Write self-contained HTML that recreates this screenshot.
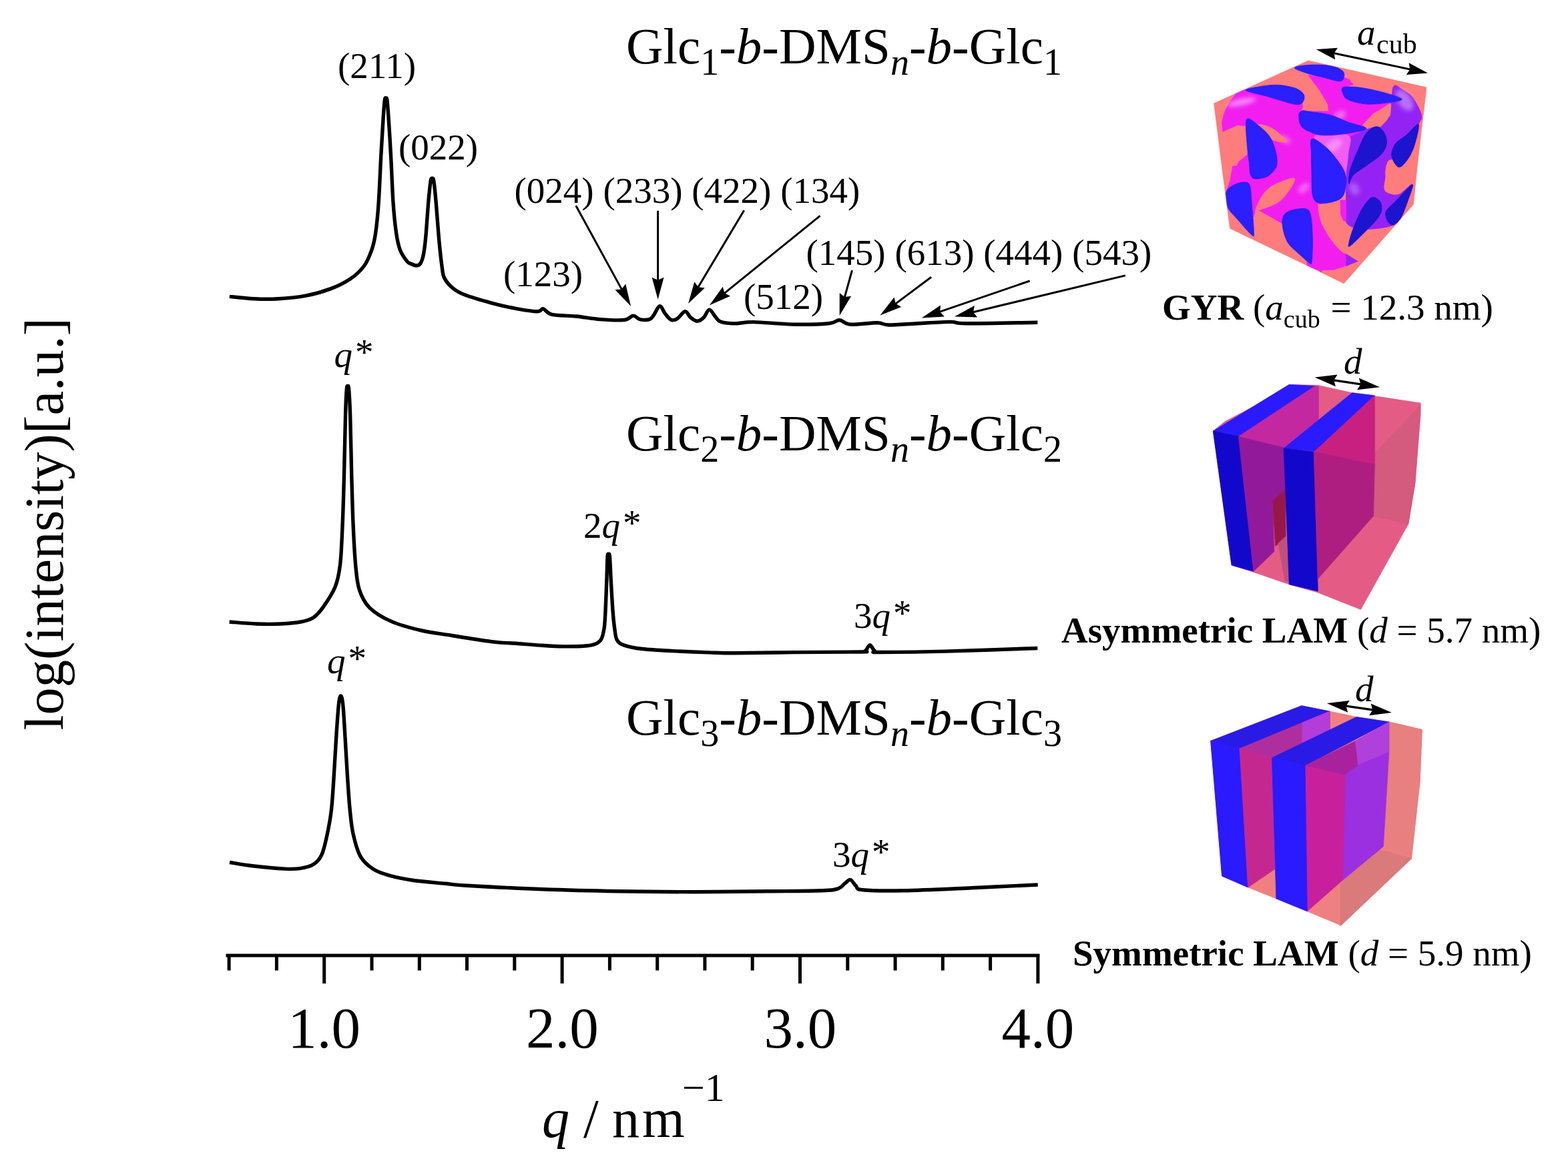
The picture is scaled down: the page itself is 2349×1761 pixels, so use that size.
<!DOCTYPE html>
<html><head><meta charset="utf-8"><style>
html,body{margin:0;padding:0;background:#fff;}
svg{display:block;}
text{font-family:"Liberation Serif","Times New Roman",serif;fill:#000;}
</style></head><body>
<svg width="2349" height="1761" viewBox="0 0 2349 1761">
<rect width="2349" height="1761" fill="#fff"/>
<g fill="none" stroke="#000" stroke-width="5.4" stroke-linejoin="round" stroke-linecap="butt">
<path d="M343.8,444.4 C349.9,445.0 368.2,447.2 380.4,447.8 C392.6,448.4 404.1,448.6 417.1,447.8 C430.1,447.0 445.4,445.7 458.4,443.2 C471.4,440.7 483.9,437.1 495.0,432.9 C506.1,428.7 516.4,423.7 524.8,418.0 C533.2,412.3 540.1,405.8 545.5,398.5 C550.9,391.2 554.0,382.6 556.9,374.4 C559.8,366.2 561.0,361.0 562.7,349.2 C564.4,337.4 565.9,322.5 567.2,303.4 C568.5,284.3 569.6,255.6 570.7,234.6 C571.9,213.6 573.2,191.5 574.1,177.3 C575.0,163.1 575.7,154.4 576.4,149.5 C577.1,144.6 577.6,148.0 578.2,148.0 C578.8,148.0 579.2,144.8 579.9,149.7 C580.5,154.6 581.1,163.2 582.1,177.3 C583.1,191.5 584.5,213.6 585.6,234.6 C586.8,255.6 587.7,284.3 589.0,303.4 C590.3,322.5 591.9,337.4 593.6,349.2 C595.3,361.0 596.6,367.3 599.3,374.4 C602.0,381.5 606.9,388.1 609.7,391.6 C612.5,395.1 613.8,394.4 616.0,395.5 C618.2,396.6 620.9,397.8 623.0,398.0 C625.1,398.2 626.9,398.0 628.5,396.5 C630.1,395.0 631.3,392.6 632.5,389.0 C633.7,385.4 634.5,381.6 635.5,375.0 C636.5,368.4 637.3,361.1 638.3,349.2 C639.3,337.3 640.6,316.4 641.7,303.4 C642.9,290.4 644.2,277.2 645.2,271.3 C646.2,265.4 646.7,267.7 647.5,267.7 C648.3,267.7 648.8,265.4 649.8,271.3 C650.8,277.2 651.9,288.5 653.2,303.4 C654.5,318.3 656.3,344.3 657.8,360.7 C659.3,377.1 661.1,392.6 662.4,402.0 C663.7,411.4 663.1,411.9 665.8,416.9 C668.5,421.9 673.2,427.6 678.4,431.8 C683.6,436.0 687.2,438.4 696.8,442.1 C706.4,445.8 723.6,450.7 736.2,454.1 C748.8,457.5 760.8,460.2 772.3,462.3 C783.8,464.4 798.0,466.7 804.9,466.8 C811.8,466.9 810.3,462.1 813.9,462.8 C817.5,463.6 818.5,469.4 826.6,471.3 C834.7,473.2 850.7,472.8 862.7,474.0 C874.8,475.2 886.8,477.7 898.9,478.6 C911.0,479.5 926.8,480.4 935.1,479.5 C943.4,478.6 944.7,473.2 948.6,473.1 C952.5,473.0 954.5,477.7 958.6,478.6 C962.7,479.5 969.6,479.7 973.1,478.6 C976.6,477.5 976.9,475.5 979.4,472.2 C981.9,468.9 985.5,459.0 988.4,458.7 C991.3,458.4 993.7,466.9 996.6,470.4 C999.5,473.9 1002.6,478.3 1005.6,479.5 C1008.6,480.7 1011.1,479.7 1014.6,477.6 C1018.1,475.5 1023.1,467.1 1026.4,466.8 C1029.7,466.5 1031.5,473.4 1034.5,475.8 C1037.5,478.2 1041.2,481.3 1044.5,481.3 C1047.8,481.3 1051.4,478.7 1054.4,475.8 C1057.4,472.9 1059.6,464.1 1062.6,464.1 C1065.6,464.1 1069.7,472.8 1072.5,475.8 C1075.3,478.8 1075.1,480.7 1079.7,482.2 C1084.3,483.7 1091.8,484.8 1100.0,484.9 C1108.2,485.0 1114.4,482.4 1128.9,482.6 C1143.4,482.8 1168.0,485.8 1186.8,486.1 C1205.6,486.5 1230.0,485.8 1241.8,484.7 C1253.6,483.6 1252.4,479.6 1257.7,479.8 C1263.0,480.0 1264.2,485.4 1273.6,486.1 C1283.0,486.8 1304.4,483.7 1314.1,483.8 C1323.8,483.9 1321.4,486.9 1331.5,487.0 C1341.6,487.1 1359.5,485.5 1374.9,484.7 C1390.3,483.9 1412.0,482.4 1424.1,482.4 C1436.1,482.4 1425.5,484.6 1447.2,484.7 C1468.9,484.8 1536.5,483.4 1554.3,483.2"/>
<path d="M343.6,932.0 C350.4,932.5 371.5,934.5 384.3,935.0 C397.1,935.5 409.4,935.5 420.5,935.0 C431.6,934.5 442.6,933.5 450.7,932.0 C458.8,930.5 463.3,929.6 468.8,926.0 C474.3,922.4 478.3,917.9 483.8,910.3 C489.3,902.6 497.6,890.7 501.9,880.1 C506.2,869.5 507.6,862.5 509.5,846.9 C511.4,831.3 512.1,809.2 513.1,786.6 C514.1,764.0 514.8,738.9 515.5,711.2 C516.2,683.6 517.0,642.2 517.6,620.7 C518.2,599.2 518.8,588.6 519.4,581.9 C520.0,575.2 520.5,580.5 521.0,580.5 C521.5,580.5 521.9,575.2 522.5,581.9 C523.1,588.6 523.9,599.2 524.6,620.7 C525.3,642.2 526.0,683.6 526.7,711.2 C527.5,738.9 528.1,764.0 529.1,786.6 C530.1,809.2 531.2,830.8 532.7,846.9 C534.2,863.0 534.7,872.5 538.1,883.1 C541.5,893.7 545.2,902.2 553.2,910.3 C561.2,918.3 573.3,925.6 586.4,931.4 C599.5,937.2 616.6,941.5 631.7,945.0 C646.8,948.5 659.5,949.7 676.9,952.5 C694.3,955.3 720.3,959.6 736.2,961.6 C752.1,963.6 760.2,963.4 772.3,964.3 C784.3,965.2 796.4,966.3 808.5,967.1 C820.6,967.9 833.2,968.8 844.7,968.9 C856.2,969.0 869.4,968.6 877.2,968.0 C885.0,967.4 887.8,966.9 891.7,965.2 C895.6,963.5 898.5,962.1 900.7,958.0 C903.0,953.9 904.1,948.2 905.2,940.8 C906.3,933.4 906.5,925.8 907.1,913.7 C907.7,901.7 908.4,881.9 908.9,868.5 C909.4,855.1 909.6,839.5 910.1,833.4 C910.6,827.3 911.2,832.0 911.8,832.0 C912.3,832.0 912.8,827.3 913.4,833.4 C914.0,839.5 914.5,855.1 915.2,868.5 C916.0,881.9 917.0,901.7 917.9,913.7 C918.8,925.8 919.5,933.3 920.6,940.8 C921.7,948.3 921.8,954.5 924.2,958.9 C926.6,963.3 928.8,964.8 935.1,967.1 C941.4,969.4 950.2,971.1 962.2,972.5 C974.2,973.9 990.8,974.7 1007.4,975.6 C1024.0,976.5 1046.3,977.4 1061.7,977.9 C1077.1,978.4 1078.5,978.8 1100.0,978.8 C1121.5,978.8 1158.7,977.9 1190.4,977.6 C1222.1,977.3 1272.6,977.2 1290.0,977.0 C1307.4,976.8 1293.7,976.9 1295.0,976.3 C1296.3,975.7 1297.1,974.6 1298.0,973.5 C1298.9,972.4 1299.6,970.6 1300.5,969.5 C1301.4,968.4 1302.4,966.7 1303.3,966.7 C1304.2,966.7 1305.1,968.4 1306.0,969.5 C1306.9,970.6 1307.6,972.3 1308.5,973.5 C1309.4,974.7 1310.1,975.8 1311.5,976.5 C1312.9,977.2 1299.5,977.6 1317.0,977.5 C1334.5,977.4 1377.0,977.1 1416.5,976.1 C1456.0,975.1 1531.3,972.3 1554.3,971.5"/>
<path d="M344.0,1292.5 C349.7,1293.4 364.6,1296.2 378.3,1297.8 C392.1,1299.4 414.4,1301.5 426.5,1302.1 C438.6,1302.7 443.4,1302.5 450.6,1301.4 C457.8,1300.3 464.7,1298.7 469.9,1295.3 C475.1,1291.9 478.6,1288.5 482.0,1280.9 C485.4,1273.3 488.0,1260.8 490.4,1249.5 C492.8,1238.2 494.9,1227.4 496.5,1213.3 C498.1,1199.2 498.9,1183.2 500.1,1165.1 C501.3,1147.0 502.5,1122.9 503.7,1104.8 C504.9,1086.7 506.2,1066.8 507.3,1056.5 C508.4,1046.2 509.4,1043.0 510.5,1043.0 C511.6,1043.0 512.7,1046.2 513.8,1056.5 C514.9,1066.8 515.9,1086.7 517.0,1104.8 C518.1,1122.9 519.4,1147.0 520.6,1165.1 C521.8,1183.2 522.8,1199.2 524.2,1213.3 C525.6,1227.4 526.4,1237.8 529.0,1249.5 C531.6,1261.2 534.9,1274.5 539.9,1283.3 C544.9,1292.1 552.0,1297.8 559.2,1302.6 C566.4,1307.4 573.2,1309.4 583.3,1312.2 C593.3,1315.0 605.4,1317.5 619.5,1319.5 C633.6,1321.5 654.4,1323.0 667.8,1324.3 C681.2,1325.6 675.8,1325.8 700.0,1327.2 C724.2,1328.6 775.3,1331.4 813.0,1332.8 C850.7,1334.2 888.3,1335.1 926.0,1335.8 C963.7,1336.5 1001.7,1336.7 1039.0,1336.7 C1076.3,1336.7 1117.9,1336.1 1150.0,1335.8 C1182.1,1335.5 1213.8,1335.5 1231.4,1334.8 C1249.0,1334.1 1250.0,1333.6 1255.8,1331.7 C1261.6,1329.8 1263.0,1325.8 1266.0,1323.6 C1269.0,1321.4 1271.4,1317.8 1274.1,1318.5 C1276.8,1319.2 1279.2,1325.1 1282.2,1327.6 C1285.2,1330.1 1280.5,1332.5 1292.4,1333.7 C1304.3,1334.9 1326.3,1335.3 1353.4,1334.8 C1380.5,1334.3 1421.5,1332.2 1455.1,1330.7 C1488.7,1329.2 1538.2,1326.8 1554.8,1326.0"/>
</g>
<g stroke="#000" stroke-width="5" fill="none">
<line x1="338.5" y1="1432" x2="1557.3" y2="1432"/>
<line x1="343.1" y1="1430" x2="343.1" y2="1454.5"/>
<line x1="414.4" y1="1430" x2="414.4" y2="1454.5"/>
<line x1="485.7" y1="1430" x2="485.7" y2="1474.0"/>
<line x1="557.0" y1="1430" x2="557.0" y2="1454.5"/>
<line x1="628.3" y1="1430" x2="628.3" y2="1454.5"/>
<line x1="699.5" y1="1430" x2="699.5" y2="1454.5"/>
<line x1="770.8" y1="1430" x2="770.8" y2="1454.5"/>
<line x1="842.1" y1="1430" x2="842.1" y2="1474.0"/>
<line x1="913.4" y1="1430" x2="913.4" y2="1454.5"/>
<line x1="984.7" y1="1430" x2="984.7" y2="1454.5"/>
<line x1="1055.9" y1="1430" x2="1055.9" y2="1454.5"/>
<line x1="1127.2" y1="1430" x2="1127.2" y2="1454.5"/>
<line x1="1198.5" y1="1430" x2="1198.5" y2="1474.0"/>
<line x1="1269.8" y1="1430" x2="1269.8" y2="1454.5"/>
<line x1="1341.1" y1="1430" x2="1341.1" y2="1454.5"/>
<line x1="1412.3" y1="1430" x2="1412.3" y2="1454.5"/>
<line x1="1483.6" y1="1430" x2="1483.6" y2="1454.5"/>
<line x1="1554.9" y1="1430" x2="1554.9" y2="1474.0"/>
</g>
<line x1="862.8" y1="308.2" x2="931.2" y2="433.4" stroke="#000" stroke-width="3"/><path d="M945.1,458.9 L921.4,434.3 L931.2,433.4 L937.2,425.6 Z" fill="#000"/>
<line x1="985.6" y1="315.8" x2="985.6" y2="419.7" stroke="#000" stroke-width="3"/><path d="M985.6,448.7 L976.6,415.7 L985.6,419.7 L994.6,415.7 Z" fill="#000"/>
<line x1="1114.7" y1="315.3" x2="1046.0" y2="430.2" stroke="#000" stroke-width="3"/><path d="M1031.1,455.1 L1040.3,422.2 L1046.0,430.2 L1055.8,431.4 Z" fill="#000"/>
<line x1="1228.6" y1="323.4" x2="1085.4" y2="439.3" stroke="#000" stroke-width="3"/><path d="M1062.8,457.6 L1082.8,429.8 L1085.4,439.3 L1094.1,443.8 Z" fill="#000"/>
<line x1="1276.5" y1="405.1" x2="1265.4" y2="445.1" stroke="#000" stroke-width="3"/><path d="M1257.7,473.1 L1257.8,438.9 L1265.4,445.1 L1275.2,443.7 Z" fill="#000"/>
<line x1="1395.1" y1="415.2" x2="1341.8" y2="455.1" stroke="#000" stroke-width="3"/><path d="M1318.5,472.5 L1339.5,445.5 L1341.8,455.1 L1350.3,459.9 Z" fill="#000"/>
<line x1="1542.7" y1="421.0" x2="1408.2" y2="467.2" stroke="#000" stroke-width="3"/><path d="M1380.7,476.6 L1409.0,457.4 L1408.2,467.2 L1414.8,474.4 Z" fill="#000"/>
<line x1="1686.0" y1="412.9" x2="1458.1" y2="467.7" stroke="#000" stroke-width="3"/><path d="M1429.9,474.5 L1459.9,458.0 L1458.1,467.7 L1464.1,475.5 Z" fill="#000"/>
<g font-size="55">
<text x="506" y="117">(211)</text>
<text x="597" y="238.5">(022)</text>
<text x="754" y="429">(123)</text>
<text x="770.5" y="304">(024) (233) (422) (134)</text>
<text x="1114" y="462.5">(512)</text>
<text x="1207.5" y="396.5">(145) (613) (444) (543)</text>
</g>
<text x="938" y="95" font-size="77">Glc<tspan font-size="56" dy="17">1</tspan><tspan dy="-17">-</tspan><tspan font-style="italic">b</tspan>-DMS<tspan font-style="italic" font-size="56" dy="17">n</tspan><tspan dy="-17">-</tspan><tspan font-style="italic">b</tspan>-Glc<tspan font-size="56" dy="17">1</tspan></text>
<text x="938" y="675" font-size="77">Glc<tspan font-size="56" dy="17">2</tspan><tspan dy="-17">-</tspan><tspan font-style="italic">b</tspan>-DMS<tspan font-style="italic" font-size="56" dy="17">n</tspan><tspan dy="-17">-</tspan><tspan font-style="italic">b</tspan>-Glc<tspan font-size="56" dy="17">2</tspan></text>
<text x="938" y="1100.5" font-size="77">Glc<tspan font-size="56" dy="17">3</tspan><tspan dy="-17">-</tspan><tspan font-style="italic">b</tspan>-DMS<tspan font-style="italic" font-size="56" dy="17">n</tspan><tspan dy="-17">-</tspan><tspan font-style="italic">b</tspan>-Glc<tspan font-size="56" dy="17">3</tspan></text>
<g font-size="87">
<text x="485.7" y="1570" text-anchor="middle">1.0</text>
<text x="842.4" y="1570" text-anchor="middle">2.0</text>
<text x="1198.9" y="1570" text-anchor="middle">3.0</text>
<text x="1554.8" y="1570" text-anchor="middle">4.0</text>
</g>
<text x="812" y="1704" font-size="82" font-style="italic">q</text><text x="874" y="1704" font-size="82">/</text><text x="917" y="1704" font-size="82" letter-spacing="4">nm</text>
<text x="1022" y="1649.5" font-size="60">&#8722;1</text>
<text transform="translate(94,1094.5) rotate(-90)" font-size="82.5">log(intensity)[a.u.]</text>
<g font-size="55">
<text x="500.5" y="549.5"><tspan font-style="italic">q</tspan><tspan dx="4" dy="-4">*</tspan></text>
<text x="874" y="806"><tspan>2</tspan><tspan font-style="italic">q</tspan><tspan dx="4" dy="-4">*</tspan></text>
<text x="1279" y="940.5"><tspan>3</tspan><tspan font-style="italic">q</tspan><tspan dx="4" dy="-4">*</tspan></text>
<text x="490" y="1009"><tspan font-style="italic">q</tspan><tspan dx="4" dy="-4">*</tspan></text>
<text x="1247" y="1298.7"><tspan>3</tspan><tspan font-style="italic">q</tspan><tspan dx="4" dy="-4">*</tspan></text>
</g>
<defs><filter id="gblur" x="-50%" y="-50%" width="200%" height="200%"><feGaussianBlur stdDeviation="3"/></filter></defs><clipPath id="hexclip"><polygon points="1818.7,154.9 1959.8,90.9 2014.0,103.0 2069.0,115.5 2137.0,131.0 2123.0,250.0 2117.4,306.5 2013.2,424.8 1960.0,398.8 1842.6,342.3 1830.6,250.0"/></clipPath>
<polygon points="1818.7,154.9 1959.8,90.9 2014.0,103.0 2069.0,115.5 2137.0,131.0 2123.0,250.0 2117.4,306.5 2013.2,424.8 1960.0,398.8 1842.6,342.3 1830.6,250.0" fill="#FF7C7C" stroke="#FF7C7C" stroke-width="0.8" stroke-linejoin="round"/>
<g clip-path="url(#hexclip)">
<polygon points="1831.7,197.3 1830.6,183.1 1835.0,166.9 1841.5,153.8 1851.3,140.8 1858.9,135.4 1866.5,134.3 1896.9,144.1 1918.6,150.6 1940.3,156.5 1951.2,154.9 1951.2,161.4 1945.7,172.3 1949.0,188.6 1962.0,197.3 1980.0,201.6 1980.0,262.4 1848.0,262.4 1855.6,242.9 1868.6,232.0 1870.8,221.2 1866.5,188.6 1853.4,187.5" fill="#F21EF0" stroke="#F21EF0" stroke-width="0.8" stroke-linejoin="round"/>
<polygon points="1960.0,112.6 1981.7,115.8 2006.7,121.8 2013.2,115.8 2020.8,119.1 2027.3,126.7 2012.1,131.0 2019.7,149.5 2046.9,156.0 2079.4,153.8 2100.1,148.4 2079.4,156.0 2057.7,170.1 2041.4,187.5 2046.9,192.9 1992.6,172.3 1960.0,166.9 1990.4,166.9 1989.3,156.0 1976.3,134.3" fill="#F21EF0" stroke="#F21EF0" stroke-width="0.8" stroke-linejoin="round"/>
<polygon points="1960.0,199.4 2014.3,200.5 2046.9,192.9 2036.0,199.4 2020.8,215.7 2027.3,262.4 1960.0,262.4" fill="#F21EF0" stroke="#F21EF0" stroke-width="0.8" stroke-linejoin="round"/>
<path d="M2088.0,129.0 C2090.9,125.4 2096.3,131.4 2101.0,134.3 C2105.7,137.2 2111.7,139.9 2116.4,146.2 C2121.1,152.5 2128.0,165.6 2129.4,172.3 C2130.8,179.0 2128.2,179.3 2125.0,186.4 C2121.8,193.5 2115.8,206.7 2110.0,215.0 C2104.2,223.3 2095.1,231.7 2090.0,236.0 C2084.9,240.3 2081.9,237.8 2079.4,241.0 C2076.9,244.2 2075.7,250.8 2075.0,255.0 C2074.3,259.2 2075.3,261.4 2075.0,266.0 C2074.7,270.6 2072.2,278.6 2073.0,282.6 C2073.8,286.6 2076.2,288.6 2080.0,290.0 C2083.8,291.4 2089.6,293.4 2095.7,291.3 C2101.8,289.2 2115.7,272.3 2116.4,277.1 C2117.1,281.9 2104.7,310.0 2100.0,320.0 C2095.3,330.0 2096.0,333.0 2088.1,336.9 C2080.2,340.8 2062.8,342.9 2052.3,343.4 C2041.8,343.9 2031.0,342.0 2025.1,340.1 C2019.2,338.2 2018.1,338.7 2016.7,332.0 C2015.3,325.3 2016.8,310.7 2016.7,300.0 C2016.6,289.3 2015.6,278.0 2016.0,268.0 C2016.4,258.0 2018.5,249.6 2019.0,240.0 C2019.5,230.4 2016.5,217.1 2019.0,210.4 C2021.5,203.7 2029.3,202.7 2034.0,200.0 C2038.7,197.3 2042.2,195.7 2046.9,194.0 C2051.6,192.3 2058.4,190.6 2062.0,189.7 C2065.6,188.8 2065.7,190.6 2068.6,188.6 C2071.5,186.6 2076.9,183.1 2079.4,177.7 C2081.9,172.3 2082.4,164.1 2083.8,156.0 C2085.2,147.9 2085.1,132.6 2088.0,129.0 Z" fill="#9422F4" stroke="#9422F4" stroke-width="0.8"/>
<path d="M1969.0,205.0 C1969.9,201.7 1979.9,201.9 1988.6,201.7 C1997.3,201.5 2015.8,199.4 2021.0,203.9 C2026.2,208.4 2020.7,220.2 2020.0,228.9 C2019.3,237.6 2017.5,249.7 2016.8,256.0 C2016.1,262.3 2017.7,269.1 2015.7,266.9 C2013.7,264.7 2010.4,250.6 2004.9,243.0 C1999.5,235.4 1989.0,227.6 1983.0,221.3 C1977.0,215.0 1968.1,208.3 1969.0,205.0 Z" fill="#F25CF2" stroke="#F25CF2" stroke-width="0.8"/>
<polygon points="1846.9,248.9 1980.0,248.9 1980.0,408.5 1964.2,395.5 1966.4,358.6 1964.2,326.0 1958.8,314.1 1945.7,313.0 1929.4,317.3 1920.7,334.7 1886.0,315.1 1913.1,304.3 1929.4,288.0 1939.2,267.4 1913.1,275.0 1896.9,285.8 1886.0,302.1 1880.6,317.3 1877.3,326.0 1875.1,304.3 1873.0,280.4 1867.5,273.3 1853.4,275.0 1838.2,284.7 1842.6,271.7" fill="#F21EF0" stroke="#F21EF0" stroke-width="0.8" stroke-linejoin="round"/>
<polygon points="1958.0,249.0 1966.0,249.0 1966.0,300.0 1974.7,307.2 1976.2,321.7 1980.5,336.2 1990.7,354.3 2001.5,368.7 2012.4,378.9 2016.0,380.0 2016.0,398.4 1997.9,404.2 1980.0,405.0 1968.9,402.7 1958.0,398.0" fill="#F21EF0" stroke="#F21EF0" stroke-width="0.8" stroke-linejoin="round"/>
<polygon points="2016.5,380.3 2034.9,391.2 2016.5,398.8" fill="#9422F4" stroke="#9422F4" stroke-width="0.8" stroke-linejoin="round"/>
<g filter="url(#gblur)" fill="#ffffff">
<ellipse cx="1860" cy="153" rx="22" ry="5" transform="rotate(-12 1860 153)" opacity="0.45"/>
<ellipse cx="1925" cy="209" rx="10" ry="5" transform="rotate(30 1925 209)" opacity="0.3"/>
<ellipse cx="1998" cy="218" rx="14" ry="8" transform="rotate(-35 1998 218)" opacity="0.3"/>
<ellipse cx="2007" cy="173" rx="10" ry="6" transform="rotate(-30 2007 173)" opacity="0.35"/>
<ellipse cx="2104" cy="150" rx="10" ry="18" transform="rotate(-35 2104 150)" opacity="0.35"/>
<ellipse cx="2029" cy="283" rx="7" ry="10" transform="rotate(-30 2029 283)" opacity="0.25"/>
<ellipse cx="1953" cy="282" rx="10" ry="6" transform="rotate(-40 1953 282)" opacity="0.3"/>
</g>
<path d="M1880.6,186.4 C1882.4,185.9 1891.4,186.8 1896.9,188.6 C1902.3,190.4 1908.1,193.3 1913.1,197.3 C1918.2,201.2 1928.2,210.3 1927.3,212.5 C1926.4,214.6 1912.8,212.1 1907.7,210.3 C1902.7,208.5 1900.5,204.7 1896.9,201.6 C1893.2,198.5 1888.7,194.4 1886.0,191.8 C1883.3,189.3 1878.8,186.9 1880.6,186.4 Z" fill="#FF7C7C" stroke="#FF7C7C" stroke-width="0.8"/>
<polygon points="2083.8,156.0 2082.7,172.3 2068.6,189.7 2041.4,187.5 2057.7,170.1" fill="#FF7C7C" stroke="#FF7C7C" stroke-width="0.8" stroke-linejoin="round"/>
<path d="M1939.2,267.4 C1936.5,265.2 1920.2,271.9 1913.1,275.0 C1906.1,278.0 1901.4,281.3 1896.9,285.8 C1892.3,290.4 1888.7,296.9 1886.0,302.1 C1883.3,307.4 1880.6,315.1 1880.6,317.3 C1880.6,319.5 1880.6,317.3 1886.0,315.1 C1891.4,313.0 1905.9,308.8 1913.1,304.3 C1920.4,299.8 1925.1,294.2 1929.4,288.0 C1933.8,281.8 1941.9,269.5 1939.2,267.4 Z" fill="#FF7C7C" stroke="#FF7C7C" stroke-width="0.8"/>
<polygon points="1974.7,306.5 2008.0,305.0 2008.7,321.7 2012.4,330.4 2019.6,337.6 2024.7,341.2 2019.6,368.7 2040.0,355.0 2040.0,394.0 2034.8,391.2 2016.0,379.6 2012.4,378.9 2001.5,368.7 1990.7,354.3 1980.5,336.2 1976.2,321.7" fill="#FF7C7C" stroke="#FF7C7C" stroke-width="0.8" stroke-linejoin="round"/>
<polygon points="2008.0,300.0 2016.7,300.0 2016.7,332.0 2012.4,330.4 2008.7,321.7" fill="#F21EF0" stroke="#F21EF0" stroke-width="0.8" stroke-linejoin="round"/>
<path d="M1866.5,135.4 C1864.7,133.0 1878.2,131.3 1886.0,129.9 C1893.8,128.6 1904.1,126.9 1913.1,127.2 C1922.2,127.6 1933.6,129.7 1940.3,132.1 C1947.0,134.6 1951.5,138.3 1953.3,141.9 C1955.1,145.5 1953.3,151.4 1951.2,153.8 C1949.0,156.3 1945.7,157.1 1940.3,156.5 C1934.9,156.0 1925.8,152.7 1918.6,150.6 C1911.3,148.5 1905.5,146.6 1896.9,144.1 C1888.2,141.5 1868.3,137.7 1866.5,135.4 Z" fill="#2B1EFF" stroke="#2B1EFF" stroke-width="0.8"/>
<path d="M1939.4,101.7 C1939.4,99.5 1951.1,97.9 1960.0,97.4 C1968.9,96.8 1984.1,97.0 1992.6,98.5 C2001.1,99.9 2007.6,103.2 2011.0,106.1 C2014.5,109.0 2013.9,113.2 2013.2,115.8 C2012.5,118.5 2011.9,121.8 2006.7,121.8 C2001.4,121.8 1989.5,117.7 1981.7,115.8 C1973.9,113.9 1967.1,112.8 1960.0,110.4 C1952.9,108.0 1939.4,103.9 1939.4,101.7 Z" fill="#2B1EFF" stroke="#2B1EFF" stroke-width="0.8"/>
<path d="M2012.1,131.0 C2016.1,129.4 2026.6,129.9 2036.0,131.0 C2045.4,132.1 2057.9,134.7 2068.6,137.5 C2079.3,140.4 2098.3,145.7 2100.1,148.4 C2101.9,151.1 2088.3,152.6 2079.4,153.8 C2070.6,155.1 2056.8,156.7 2046.9,156.0 C2036.9,155.3 2025.5,152.0 2019.7,149.5 C2013.9,147.0 2013.4,143.9 2012.1,140.8 C2010.9,137.7 2008.1,132.7 2012.1,131.0 Z" fill="#2B1EFF" stroke="#2B1EFF" stroke-width="0.8"/>
<path d="M1945.7,172.3 C1946.0,168.5 1948.7,166.7 1951.1,165.8 C1953.5,164.9 1953.1,165.8 1960.0,166.9 C1966.9,168.0 1982.6,169.6 1992.6,172.3 C2002.5,175.0 2010.7,179.7 2019.7,183.1 C2028.8,186.5 2047.8,190.0 2046.9,192.9 C2046.0,195.8 2025.2,198.9 2014.3,200.5 C2003.4,202.1 1990.4,203.2 1981.7,202.7 C1973.0,202.2 1967.5,199.7 1962.0,197.3 C1956.5,195.0 1951.7,192.8 1949.0,188.6 C1946.3,184.4 1945.4,176.1 1945.7,172.3 Z" fill="#2B1EFF" stroke="#2B1EFF" stroke-width="0.8"/>
<path d="M1869.7,177.7 C1873.0,177.7 1880.6,184.1 1886.0,188.6 C1891.4,193.1 1898.1,198.6 1902.3,204.9 C1906.5,211.2 1909.2,219.8 1911.0,226.6 C1912.8,233.4 1913.6,241.0 1913.1,246.0 C1912.5,251.0 1910.4,253.3 1907.7,256.5 C1905.0,259.7 1901.6,263.3 1896.9,265.2 C1892.2,267.1 1883.5,268.6 1879.5,267.9 C1875.5,267.2 1874.3,264.7 1873.0,260.9 C1871.7,257.1 1872.2,251.6 1871.5,245.0 C1870.8,238.4 1869.4,230.6 1868.6,221.2 C1867.8,211.8 1866.3,195.8 1866.5,188.6 C1866.7,181.3 1866.5,177.7 1869.7,177.7 Z" fill="#2B1EFF" stroke="#2B1EFF" stroke-width="0.8"/>
<path d="M1965.4,208.1 C1969.2,206.6 1980.4,215.4 1987.1,221.2 C1993.8,227.0 2001.1,236.8 2005.6,242.9 C2010.1,249.0 2012.5,253.2 2014.3,258.0 C2016.1,262.8 2016.9,265.8 2016.5,271.7 C2016.1,277.6 2015.2,288.3 2012.1,293.4 C2009.0,298.5 2004.0,300.3 1998.0,302.1 C1992.0,303.9 1981.5,305.8 1976.3,304.3 C1971.0,302.9 1968.4,300.8 1966.5,293.4 C1964.6,286.0 1965.3,270.6 1965.0,260.0 C1964.7,249.4 1964.4,238.7 1964.5,230.0 C1964.6,221.3 1961.6,209.6 1965.4,208.1 Z" fill="#2B1EFF" stroke="#2B1EFF" stroke-width="0.8"/>
<path d="M1838.2,284.7 C1840.9,280.8 1848.5,276.9 1853.4,275.0 C1858.3,273.1 1864.3,272.4 1867.5,273.3 C1870.8,274.2 1871.7,275.2 1873.0,280.4 C1874.2,285.6 1874.2,293.1 1875.1,304.3 C1876.1,315.5 1878.4,339.8 1878.4,347.7 C1878.4,355.7 1879.3,355.3 1875.1,352.1 C1871.0,348.8 1859.2,334.7 1853.4,328.2 C1847.6,321.7 1843.1,317.9 1840.4,313.0 C1837.7,308.1 1837.5,303.6 1837.1,298.9 C1836.8,294.2 1835.5,288.7 1838.2,284.7 Z" fill="#2B1EFF" stroke="#2B1EFF" stroke-width="0.8"/>
<path d="M1921.8,326.0 C1923.1,321.8 1925.5,319.5 1929.4,317.3 C1933.4,315.1 1940.8,313.5 1945.7,313.0 C1950.6,312.4 1955.7,311.9 1958.8,314.1 C1961.8,316.2 1962.9,318.6 1964.2,326.0 C1965.4,333.4 1966.2,347.7 1966.4,358.6 C1966.5,369.4 1966.0,385.2 1965.3,391.2 C1964.5,397.1 1965.3,396.2 1962.0,394.4 C1958.8,392.6 1951.2,385.4 1945.7,380.3 C1940.3,375.2 1933.4,370.3 1929.4,364.0 C1925.5,357.7 1923.1,348.6 1921.8,342.3 C1920.6,336.0 1920.6,330.2 1921.8,326.0 Z" fill="#2B1EFF" stroke="#2B1EFF" stroke-width="0.8"/>
<path d="M2062.1,189.7 C2066.6,189.7 2071.5,195.1 2074.0,199.4 C2076.5,203.8 2078.2,210.3 2077.3,215.7 C2076.4,221.2 2073.6,226.6 2068.6,232.0 C2063.5,237.4 2053.7,243.2 2046.9,248.3 C2040.0,253.4 2031.7,257.9 2027.3,262.4 C2023.0,266.9 2021.5,276.9 2020.8,275.4 C2020.1,274.0 2020.4,262.8 2023.0,253.7 C2025.5,244.7 2032.0,230.2 2036.0,221.2 C2040.0,212.1 2042.5,204.7 2046.9,199.4 C2051.2,194.2 2057.5,189.7 2062.1,189.7 Z" fill="#1C14CE" stroke="#1C14CE" stroke-width="0.8"/>
<path d="M2125.0,186.4 C2127.2,188.6 2122.1,207.2 2119.6,215.7 C2117.1,224.2 2113.8,231.6 2109.8,237.4 C2105.9,243.2 2099.9,251.0 2095.7,250.5 C2091.6,249.9 2085.8,240.0 2084.9,234.2 C2084.0,228.4 2086.7,221.0 2090.3,215.7 C2093.9,210.5 2100.8,207.6 2106.6,202.7 C2112.4,197.8 2122.9,184.2 2125.0,186.4 Z" fill="#1C14CE" stroke="#1C14CE" stroke-width="0.8"/>
<path d="M2057.7,295.6 C2060.8,295.8 2065.5,298.9 2067.5,302.1 C2069.5,305.4 2070.4,310.8 2069.7,315.1 C2068.9,319.5 2066.9,323.1 2063.1,328.2 C2059.3,333.2 2053.6,338.9 2046.9,345.5 C2040.2,352.2 2027.3,365.3 2023.0,368.3 C2018.6,371.4 2020.1,368.3 2020.8,364.0 C2021.5,359.7 2024.4,350.1 2027.3,342.3 C2030.2,334.5 2034.6,324.2 2038.2,317.3 C2041.8,310.4 2045.8,304.7 2049.0,301.0 C2052.3,297.4 2054.6,295.4 2057.7,295.6 Z" fill="#1C14CE" stroke="#1C14CE" stroke-width="0.8"/>
<path d="M2116.4,277.1 C2116.9,279.5 2112.7,290.7 2109.8,298.9 C2106.9,307.0 2102.6,319.7 2099.0,326.0 C2095.4,332.3 2091.4,335.8 2088.1,336.9 C2084.9,337.9 2081.4,335.8 2079.4,332.5 C2077.4,329.3 2074.4,322.4 2076.2,317.3 C2078.0,312.3 2085.2,307.5 2090.3,302.1 C2095.4,296.7 2102.2,288.9 2106.6,284.7 C2110.9,280.6 2115.8,274.8 2116.4,277.1 Z" fill="#1C14CE" stroke="#1C14CE" stroke-width="0.8"/>
</g>
<polygon points="1817.4,646.1 1834.9,631.8 1877.9,609.2 1931.3,576.4 1974.3,577.4 2025.6,588.7 2060.5,593.8 2128.1,604.1 2128.1,621.5 2119.9,724.1 2109.7,785.6 2038.5,913.4 1974.3,888.1 1931.3,875.8 1877.9,857.4 1845.1,847.1" fill="#E45C86" stroke="#E45C86" stroke-width="0.8" stroke-linejoin="round"/>
<polygon points="2059.4,678.9 2128.1,607.2 2119.9,724.1 2109.7,785.6 2057.4,773.3" fill="#D45A7E" stroke="#D45A7E" stroke-width="0.8" stroke-linejoin="round"/>
<polygon points="1817.4,646.1 1931.3,576.4 1970.2,578.5 1855.4,654.3" fill="#2A1AFF" stroke="#2A1AFF" stroke-width="0.8" stroke-linejoin="round"/>
<polygon points="1855.4,654.3 1970.2,578.5 1975.3,578.9 1975.3,628.9 1923.1,670.7" fill="#C428A0" stroke="#C428A0" stroke-width="0.8" stroke-linejoin="round"/>
<polygon points="1923.1,671.8 2025.6,588.7 2059.4,592.8 1970.2,675.9" fill="#2A1AFF" stroke="#2A1AFF" stroke-width="0.8" stroke-linejoin="round"/>
<polygon points="1970.2,675.9 2059.4,592.8 2059.4,696.4 1968.2,677.9" fill="#C82080" stroke="#C82080" stroke-width="0.8" stroke-linejoin="round"/>
<polygon points="1817.4,646.1 1855.4,654.3 1877.9,856.3 1845.1,847.1" fill="#1208CC" stroke="#1208CC" stroke-width="0.8" stroke-linejoin="round"/>
<polygon points="1855.4,654.3 1923.1,670.7 1925.1,734.3 1906.6,750.7 1908.7,826.6 1877.9,856.3" fill="#921A9A" stroke="#921A9A" stroke-width="0.8" stroke-linejoin="round"/>
<polygon points="1906.6,750.7 1925.1,734.3 1926.1,806.1 1910.7,818.4" fill="#961848" stroke="#961848" stroke-width="0.8" stroke-linejoin="round"/>
<polygon points="1914.8,814.3 1926.1,804.1 1931.3,871.7 1925.1,870.7" fill="#C0507A" stroke="#C0507A" stroke-width="0.8" stroke-linejoin="round"/>
<polygon points="1923.1,671.8 1968.2,676.9 1974.3,886.1 1931.3,875.8" fill="#1208CC" stroke="#1208CC" stroke-width="0.8" stroke-linejoin="round"/>
<polygon points="1968.2,676.9 2059.4,696.4 2057.4,773.3 1974.3,867.6" fill="#AE1E80" stroke="#AE1E80" stroke-width="0.8" stroke-linejoin="round"/>
<polygon points="1813.7,1110.4 1949.9,1057.7 1992.1,1066.1 2032.2,1074.5 2080.7,1081.9 2130.3,1093.5 2127.1,1171.6 2114.5,1285.6 2008.9,1386.9 1958.3,1365.8 1911.9,1346.8 1869.6,1329.9 1830.6,1313.0" fill="#F08080" stroke="#F08080" stroke-width="0.8" stroke-linejoin="round"/>
<polygon points="2008.1,1324.0 2065.9,1273.4 2115.1,1286.5 2008.1,1387.8" fill="#DA7A7A" stroke="#DA7A7A" stroke-width="0.8" stroke-linejoin="round"/>
<polygon points="2080.7,1081.9 2130.3,1093.5 2127.1,1171.6 2114.5,1285.6 2072.3,1268.7 2076.5,1127.3" fill="#E88080" stroke="#E88080" stroke-width="0.8" stroke-linejoin="round"/>
<polygon points="1813.7,1110.4 1949.9,1057.7 1992.1,1066.1 1857.0,1122.0" fill="#2A1AE6" stroke="#2A1AE6" stroke-width="0.8" stroke-linejoin="round"/>
<polygon points="1857.0,1122.0 1992.1,1066.1 1992.1,1094.0 1905.5,1135.8" fill="#AE2E9E" stroke="#AE2E9E" stroke-width="0.8" stroke-linejoin="round"/>
<polygon points="1950.9,1083.0 1992.1,1066.1 1992.1,1094.0 1950.9,1113.6" fill="#B43CD8" stroke="#B43CD8" stroke-width="0.8" stroke-linejoin="round"/>
<polygon points="1905.5,1135.8 2032.2,1074.5 2080.7,1081.9 1955.1,1147.4" fill="#2A1AE6" stroke="#2A1AE6" stroke-width="0.8" stroke-linejoin="round"/>
<polygon points="1955.1,1147.4 2030.4,1110.6 2035.0,1146.8 2014.2,1162.1" fill="#A8229E" stroke="#A8229E" stroke-width="0.8" stroke-linejoin="round"/>
<polygon points="2030.4,1110.6 2081.0,1081.7 2081.0,1126.9 2035.0,1146.8" fill="#B040DC" stroke="#B040DC" stroke-width="0.8" stroke-linejoin="round"/>
<polygon points="2014.2,1162.1 2034.9,1146.7 2080.9,1126.9 2072.3,1268.7 2011.1,1319.4" fill="#9A30E0" stroke="#9A30E0" stroke-width="0.8" stroke-linejoin="round"/>
<polygon points="1955.1,1147.4 2015.3,1162.1 2011.1,1319.4 1958.3,1365.8" fill="#C8209C" stroke="#C8209C" stroke-width="0.8" stroke-linejoin="round"/>
<polygon points="1813.7,1110.4 1857.0,1121.0 1869.6,1329.9 1830.6,1313.0" fill="#2A1AFF" stroke="#2A1AFF" stroke-width="0.8" stroke-linejoin="round"/>
<polygon points="1857.0,1121.0 1905.5,1135.8 1909.8,1302.5 1869.6,1329.9" fill="#C42890" stroke="#C42890" stroke-width="0.8" stroke-linejoin="round"/>
<polygon points="1905.5,1135.8 1955.1,1147.4 1958.3,1365.8 1911.9,1346.8" fill="#2A1AFF" stroke="#2A1AFF" stroke-width="0.8" stroke-linejoin="round"/>
<g font-size="55">
<text x="1741" y="478.6"><tspan font-weight="bold">GYR</tspan> (<tspan font-style="italic">a</tspan><tspan font-size="38" dy="12">cub</tspan><tspan dy="-12" dx="2"> = 12.3 nm)</tspan></text>
<text x="1590" y="962.6"><tspan font-weight="bold">Asymmetric LAM</tspan> (<tspan font-style="italic">d</tspan> = 5.7 nm)</text>
<text x="1607" y="1447.4"><tspan font-weight="bold">Symmetric LAM</tspan> (<tspan font-style="italic">d</tspan> = 5.9 nm)</text>
<text x="2033" y="67" font-style="italic">a</text>
<text x="2062" y="79.7" font-size="42">cub</text>
<text x="2013" y="559.5" font-style="italic">d</text>
<text x="2030" y="1050.5" font-style="italic">d</text>
</g>
<line x1="1998.5" y1="79.7" x2="2112.3" y2="103.9" stroke="#000" stroke-width="3"/><path d="M1971.8,74.0 L2000.2,89.3 L1998.5,79.7 L2004.0,71.7 Z M2139.0,109.6 L2106.8,111.9 L2112.3,103.9 L2110.6,94.3 Z" fill="#000"/><line x1="1998.3" y1="569.8" x2="2038.4" y2="575.9" stroke="#000" stroke-width="3.2"/><path d="M1969.6,565.4 L2000.9,579.3 L1998.3,569.8 L2003.6,561.5 Z M2067.1,580.3 L2033.1,584.2 L2038.4,575.9 L2035.8,566.4 Z" fill="#000"/><line x1="2016.5" y1="1058.2" x2="2056.3" y2="1063.9" stroke="#000" stroke-width="3.2"/><path d="M1987.8,1054.1 L2019.2,1067.7 L2016.5,1058.2 L2021.7,1049.9 Z M2085.0,1068.0 L2051.1,1072.2 L2056.3,1063.9 L2053.6,1054.4 Z" fill="#000"/>
</svg>
</body></html>
